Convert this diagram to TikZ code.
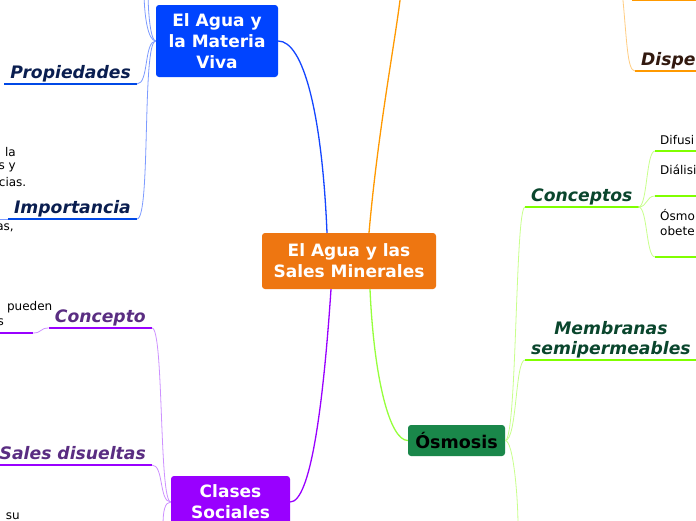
\documentclass[tikz,border=0pt]{standalone}
\usepackage{fontspec}
\setmainfont{DejaVu Sans}
\usetikzlibrary{positioning,calc}
\definecolor{mainorange}{RGB}{238,118,17}
\definecolor{agublue}{RGB}{0,68,255}
\definecolor{clapurple}{RGB}{153,0,255}
\definecolor{osmgreen}{RGB}{26,135,74}
\definecolor{linorange}{RGB}{255,153,0}
\definecolor{linblue}{RGB}{20,70,255}
\definecolor{linpurple}{RGB}{153,0,255}
\definecolor{lingreen}{RGB}{150,255,60}
\definecolor{ulblue}{RGB}{0,72,230}
\definecolor{ulgreen}{RGB}{128,255,0}
\definecolor{twigblue}{RGB}{125,155,255}
\definecolor{twigpurple}{RGB}{205,145,255}
\definecolor{twiggreen}{RGB}{200,255,140}
\definecolor{twigorange}{RGB}{255,205,130}
\definecolor{navytext}{RGB}{10,30,80}
\definecolor{purpletext}{RGB}{90,45,130}
\definecolor{greentext}{RGB}{10,70,45}
\definecolor{browntext}{RGB}{50,25,15}
\tikzset{
  mainbox/.style={rectangle,rounded corners=3pt,fill=#1,text=white,align=center,inner sep=0pt,font=\bfseries\fontsize{17}{21}\selectfont},
  topic/.style={font=\bfseries\itshape\fontsize{17.2}{20}\selectfont,inner xsep=6pt,inner ysep=1.5pt,text depth=4pt,align=center},
  underl/.style={append after command={(\tikzlastnode.south west) edge[line width=2.6pt,draw=#1] (\tikzlastnode.south east)}},
  leaf/.style={font=\fontsize{12}{15}\selectfont,inner sep=0pt,align=left},
  branch/.style={line width=1.3pt,draw=#1},
  twig/.style={line width=0.8pt,draw=#1}
}
\begin{document}
\begin{tikzpicture}[x=1pt,y=-1pt]
  \useasboundingbox[fill=white] (0,0) rectangle (696,520);
  % main topics
  \node[mainbox=mainorange,minimum width=174pt,minimum height=56pt] (main) at (349,261) {El Agua y las\\Sales Minerales};
  \node[mainbox=agublue,minimum width=122pt,minimum height=72pt] (agua) at (217,41) {El Agua y\\la Materia\\Viva};
  \node[mainbox=clapurple,minimum width=119pt,minimum height=52pt] (clases) at (230.5,502) {Clases\\Sociales};
  \node[mainbox=osmgreen,text=black,minimum width=97pt,minimum height=31pt,font=\bfseries\fontsize{17.5}{21}\selectfont] (osm) at (456.5,440.5) {Ósmosis};
  % subtopics
  \node[topic,text=navytext,underl=ulblue,anchor=south east] (prop) at (137,84) {Propiedades};
  \node[topic,text=navytext,underl=ulblue,anchor=south east] (impo) at (137,219) {Importancia};
  \node[topic,text=purpletext,underl=linpurple,anchor=south east] (conc) at (152,328) {Concepto};
  \node[topic,text=purpletext,underl=linpurple,anchor=south east] (sales) at (152,465) {Sales disueltas};
  \node[topic,text=greentext,underl=ulgreen,anchor=south west] (concep) at (525,207) {Conceptos};
  \node[topic,text=greentext,underl=ulgreen,anchor=south west] (membr) at (525,360) {Membranas\\semipermeables};
  \node[topic,text=browntext,underl=linorange,anchor=south west] (disper) at (635,71) {Disper};
  % leaves
  \node[leaf,anchor=east] (impA) at (16,152) {la};
  \node[leaf,anchor=east] (impB) at (16,167) {s y};
  \node[leaf,anchor=east] (impC) at (26.5,182) {cias.};
  \node[leaf,anchor=east] (impD) at (14,228) {as,};
  \node[leaf,anchor=east] (concA) at (52.5,307) {pueden};
  \node[leaf,anchor=east] (concB) at (4,322) {s};
  \node[leaf,anchor=east] (salA) at (20,516) {su};
  \node[leaf,anchor=west] (dif) at (660,140) {Difusi};
  \node[leaf,anchor=west] (dial) at (660,170) {Diálisi};
  \node[leaf,anchor=west] (osmo) at (660,222.5) {Ósmo\\obete};
  % free ends
  \coordinate (orangetop) at (401,-8);
  \coordinate (upA) at (144,-10);
  \coordinate (upB) at (148,-10);
  \coordinate (clasdown) at (163,526);
  \coordinate (osmdown) at (518,526);
  \coordinate (orangeup) at (622,-10);
  \coordinate (sibU) at (632,-0.2);
  \coordinate (difL) at (655,151);
  \coordinate (dialL) at (655,196);
  \coordinate (osmoL) at (655,257);
  \coordinate (concL) at (33,333);
  \coordinate (impL) at (-4,219);
  % branches
  \draw[branch=linblue] ([xshift=-22pt]main.north) .. controls +(-5,-120) and +(25,0) .. (agua.east);
  \draw[branch=linorange] ([xshift=20pt]main.north) .. controls +(9,-103) and +(-5,45) .. (orangetop);
  \draw[branch=linpurple] ([xshift=-18pt]main.south) .. controls +(-8,120) and +(20,0) .. (clases.east);
  \draw[branch=lingreen] ([xshift=21pt]main.south) .. controls +(4,90) and +(-18,0) .. (osm.west);
  % twigs
  \draw[twig=twigblue] (agua.west) .. controls +(-12,0) and +(12,0) .. (prop.south east);
  \draw[twig=twigblue] (agua.west) .. controls +(-14,0) and +(14,0) .. (impo.south east);
  \draw[twig=twigblue] (agua.west) .. controls +(-8,0) and +(0,25) .. (upA);
  \draw[twig=twigblue] (agua.west) .. controls +(-5,0) and +(0,25) .. (upB);
  \draw[twig=twigblue] (impo.south west) -- (impL);
  \draw[twig=twigpurple] (clases.west) .. controls +(-12,0) and +(12,0) .. (conc.south east);
  \draw[twig=twigpurple] (clases.west) .. controls +(-12,0) and +(12,0) .. (sales.south east);
  \draw[twig=twigpurple] (clases.west) .. controls +(-6,0) and +(0,-15) .. (clasdown);
  \draw[twig=twigpurple] (conc.south west) .. controls +(-9,0) and +(9,0) .. (concL);
  \draw[line width=1.8pt,draw=linpurple] (concL) -- ++(-40,0);
  \draw[twig=twiggreen] (osm.east) .. controls +(12,0) and +(-10,0) .. (concep.south west);
  \draw[twig=twiggreen] (osm.east) .. controls +(12,0) and +(-10,0) .. (membr.south west);
  \draw[twig=twiggreen] (osm.east) .. controls +(8,0) and +(0,-30) .. (osmdown);
  \draw[twig=twiggreen] (concep.south east) .. controls +(9,0) and +(-9,0) .. (difL);
  \draw[twig=twiggreen] (concep.south east) .. controls +(9,0) and +(-9,0) .. (dialL);
  \draw[twig=twiggreen] (concep.south east) .. controls +(9,0) and +(-9,0) .. (osmoL);
  \draw[line width=2.2pt,draw=ulgreen] (difL) -- ++(50,0);
  \draw[line width=2.2pt,draw=ulgreen] (dialL) -- ++(50,0);
  \draw[line width=2.2pt,draw=ulgreen] (osmoL) -- ++(50,0);
  \draw[twig=twigorange] (orangeup) .. controls +(5,50) and +(-8,0) .. (disper.south west);
  \draw[line width=2.6pt,draw=linorange] (sibU) -- ++(70,0);
\end{tikzpicture}
\end{document}
